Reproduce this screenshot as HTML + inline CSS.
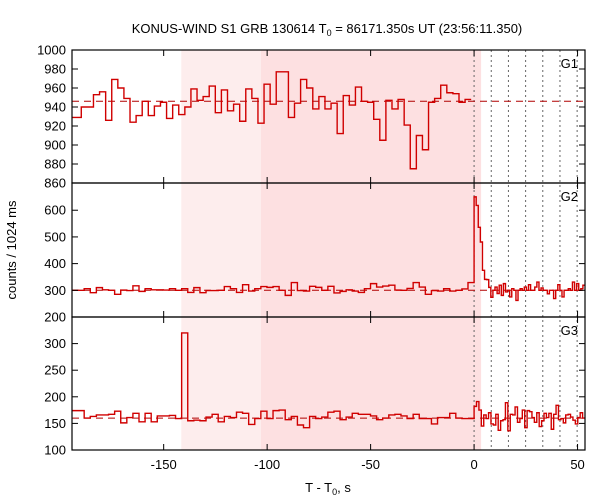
<!DOCTYPE html>
<html><head><meta charset="utf-8"><style>
body{margin:0;background:#fff;}
svg{display:block;font-family:"Liberation Sans","DejaVu Sans",sans-serif;}
</style></head><body>
<svg id="chart" width="600" height="500" viewBox="0 0 600 500"></svg>
<script>
// ---- data ----
const xTicks = [-150, -100, -50, 0, 50];
const g1Ticks = [860, 880, 900, 920, 940, 960, 980, 1000];
const g2Ticks = [200, 300, 400, 500, 600];
const g3Ticks = [100, 150, 200, 250, 300];
const g1Background = 946;
const g2Background = 300;
const g3Background = 160;
const dottedTimes = [0, 8.3, 16.6, 24.9, 33.2, 41.5, 49.8];
const shadeLight = [-141.5, -103];
const shadeDark = [-103, 3.4];
const preBinWidth = 2.944;
const g1Pre = [929,940,940,953,956,926,969,960,949,924,931,946,931,941,945,928,942,932,940,959,947,951,962,934,958,936,943,925,959,949,923,964,943,977,977,929,944,969,960,938,951,938,944,912,952,942,961,946,945,927,905,947,938,948,921,875,910,895,945,949,963,955,954,945,948];
const g2Pre = [300,306,291,310,302,300,285,301,299,317,296,306,302,302,301,306,300,306,292,310,291,299,299,300,314,306,292,321,297,306,314,311,314,300,281,329,299,297,315,311,300,315,290,296,302,297,292,306,325,312,316,319,301,300,307,329,312,285,299,297,306,297,300,305,329];
const g2Post = [650,618,536,481,375,341,340,311,274,300,312,288,319,281,325,294,300,275,306,300,262,300,306,300,312,300,321,300,300,312,331,300,309,300,300,287,300,300,269,300,321,300,275,300,300,306,300,331,300,325,300,306,319];
const g3Pre = [174,160,163,166,166,167,173,151,161,169,153,169,153,164,164,165,159,320,155,156,155,162,167,153,163,161,171,169,148,159,173,159,174,175,157,163,147,142,163,159,162,171,173,157,162,169,167,167,164,157,160,166,167,164,159,167,159,159,149,161,161,169,160,159,159];
const g3Post = [182,191,175,145,166,159,170,149,147,167,137,155,157,189,136,167,166,181,152,159,175,142,174,172,161,152,170,144,155,169,161,169,139,167,184,157,159,151,166,167,162,156,149,161,170,160];

// ---- layout ----
const NS = "http://www.w3.org/2000/svg";
const svg = document.getElementById('chart');
const X0 = 72, X1 = 585, TMIN = -194.3, TMAX = 53.6;
function xs(t){ return X0 + (t - TMIN) / (TMAX - TMIN) * (X1 - X0); }
const panels = [
  {name:'g1', top:50, bot:183, min:860, max:1000, ticks:g1Ticks, bg:g1Background, pre:g1Pre, post:[], label:'G1', end:-1.4},
  {name:'g2', top:183, bot:317, min:200, max:702, ticks:g2Ticks, bg:g2Background, pre:g2Pre, post:g2Post, label:'G2', end:0},
  {name:'g3', top:317, bot:450, min:100, max:350, ticks:g3Ticks, bg:g3Background, pre:g3Pre, post:g3Post, label:'G3', end:0}
];
function el(tag, attrs, parent){
  const e = document.createElementNS(NS, tag);
  for (const k in attrs) e.setAttribute(k, attrs[k]);
  (parent || svg).appendChild(e);
  return e;
}
let r1 = el('rect',{x:xs(shadeLight[0]),y:50,width:xs(shadeLight[1])-xs(shadeLight[0]),height:400,fill:'#fdeded'});


let r2 = el('rect',{x:xs(shadeDark[0]),y:50,width:xs(shadeDark[1])-xs(shadeDark[0]),height:400,fill:'#fde0e1'});


dottedTimes.forEach(t=>{
  const l = el('line',{x1:xs(t),x2:xs(t),y1:50,y2:450,stroke:'#666','stroke-width':1,'stroke-dasharray':'2,3'});
  
  
});
panels.forEach(p=>{
  const ys = v => p.bot - (v - p.min) / (p.max - p.min) * (p.bot - p.top);
  const bl = el('line',{x1:X0,x2:X1,y1:ys(p.bg),y2:ys(p.bg),stroke:'#b00000','stroke-width':1,'stroke-dasharray':'7,5'});
  
  
  let d = '';
  const n = p.pre.length;
  const start = p.end - n*preBinWidth;
  p.pre.forEach((v,i)=>{
    const a = xs(Math.max(TMIN, i===0 ? TMIN : start + i*preBinWidth));
    const b = xs(start + (i+1)*preBinWidth), y = ys(v);
    d += (i===0 ? 'M'+a+','+y : 'V'+y) + 'H'+b;
  });
  if (p.post.length){
    const wPost = (TMAX - 0) / p.post.length;
    p.post.forEach((v,i)=>{
      const b = xs((i+1)*wPost), y = ys(v);
      d += 'V'+y+'H'+b;
    });
  }
  const path = el('path',{d:d,fill:'none',stroke:'#d00000','stroke-width':1.4});
  
  
  p.ticks.forEach(v=>{
    const y = ys(v);
    if (v !== p.min && v !== p.max || p.name==='g1'){
      el('line',{x1:X0,x2:X0+6,y1:y,y2:y,stroke:'#000'});
      el('line',{x1:X1-6,x2:X1,y1:y,y2:y,stroke:'#000'});
    }
    const t = el('text',{x:66,y:y+4.5,'text-anchor':'end','font-size':13,fill:'#000'});
    t.textContent = v;
    
    
  });
  xTicks.forEach(t=>{
    el('line',{x1:xs(t),x2:xs(t),y1:p.bot,y2:p.bot-6,stroke:'#000'});
    el('line',{x1:xs(t),x2:xs(t),y1:p.top,y2:p.top+6,stroke:'#000'});
  });
  const lab = el('text',{x:578,y:p.top+18,'text-anchor':'end','font-size':13,fill:'#000'});
  lab.textContent = p.label;
  
  
  const fr = el('rect',{x:X0,y:p.top,width:X1-X0,height:p.bot-p.top,fill:'none',stroke:'#000','stroke-width':1.2});
  
  
});
xTicks.forEach(t=>{
  const tx = el('text',{x:xs(t),y:469,'text-anchor':'middle','font-size':13,fill:'#000'});
  tx.textContent = t;
  
  
});
</script>
<script>
(function(){
  const svg = document.getElementById('chart');
  const NS = "http://www.w3.org/2000/svg";
  const title = document.createElementNS(NS,'text');
  title.setAttribute('x','327'); title.setAttribute('y','33'); title.setAttribute('text-anchor','middle'); title.setAttribute('font-size','13');
  title.innerHTML = 'KONUS-WIND S1 GRB 130614 T<tspan font-size="9" dy="3">0</tspan><tspan dy="-3"> = 86171.350s UT (23:56:11.350)</tspan>';
  
  
  svg.appendChild(title);
  const xl = document.createElementNS(NS,'text');
  xl.setAttribute('x','328'); xl.setAttribute('y','492'); xl.setAttribute('text-anchor','middle'); xl.setAttribute('font-size','13');
  xl.innerHTML = 'T - T<tspan font-size="9" dy="3">0</tspan><tspan dy="-3">, s</tspan>';
  
  
  svg.appendChild(xl);
  const yl = document.createElementNS(NS,'text');
  yl.setAttribute('x','0'); yl.setAttribute('y','0'); yl.setAttribute('text-anchor','middle'); yl.setAttribute('font-size','13');
  yl.setAttribute('transform','translate(16,250) rotate(-90)');
  yl.textContent = 'counts / 1024 ms';
  
  
  svg.appendChild(yl);
})();
</script>
</body></html>
